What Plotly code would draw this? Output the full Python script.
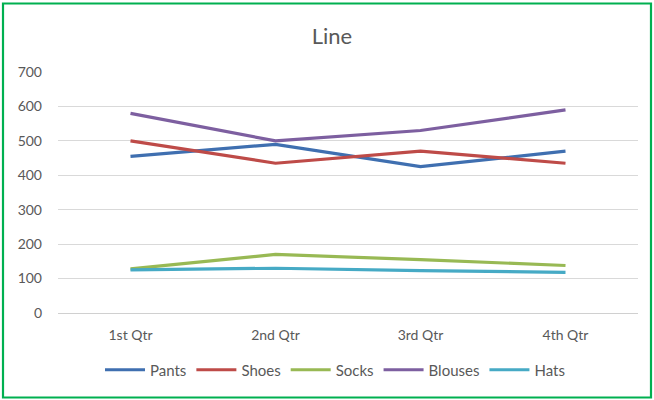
import plotly.graph_objects as go

quarters = ["1st Qtr", "2nd Qtr", "3rd Qtr", "4th Qtr"]
pants = [455, 490, 425, 470]
shoes = [500, 435, 470, 435]
socks = [128, 170, 155, 138]
blouses = [580, 500, 530, 590]
hats = [125, 130, 123, 118]

series_names = ["Pants", "Shoes", "Socks", "Blouses", "Hats"]
series_values = [pants, shoes, socks, blouses, hats]
series_colors = ["#3F6FB0", "#BE4B48", "#98B954", "#7D5FA0", "#46AAC5"]

W, H = 654, 400
ml, mr, mt, mb = 58, 16, 72, 87

fig = go.Figure()
for name, vals, col in zip(series_names, series_values, series_colors):
    fig.add_trace(go.Scatter(
        x=quarters, y=vals, name=name, mode="lines",
        line=dict(color=col, width=3.2),
    ))

pw = W - ml - mr
ph = H - mt - mb


def px_x(p):
    return (p - ml) / pw


def px_y(p):
    return (H - mb - p) / ph


fig.update_layout(
    width=W, height=H,
    margin=dict(l=ml, r=mr, t=mt, b=mb),
    paper_bgcolor="white",
    plot_bgcolor="white",
    font=dict(family="Lato, 'Open Sans', sans-serif", color="#595959", size=14),
    title=dict(text="Line", x=332 / W, xanchor="center", y=1 - 36 / H, yanchor="middle",
               font=dict(size=22, color="#595959")),
    xaxis=dict(
        showgrid=False, showline=True, linecolor="#D0D0D0", linewidth=1,
        ticks="", tickfont=dict(size=14, color="#595959"), ticklabelstandoff=9,
        range=[-0.5, 3.5],
    ),
    yaxis=dict(
        range=[0, 700], dtick=100, showgrid=True, gridcolor="#D9D9D9", gridwidth=1,
        zeroline=False, showline=False, ticks="",
        tickfont=dict(size=14, color="#595959"), ticklabelstandoff=15,
    ),
    legend=dict(
        orientation="h", x=px_x(335), xanchor="center", y=px_y(370), yanchor="middle",
        font=dict(size=15, color="#595959"), tracegroupgap=0, itemwidth=40,
    ),
    showlegend=True,
    shapes=[dict(
        type="rect", xref="paper", yref="paper",
        x0=px_x(3), x1=px_x(651), y0=px_y(397.5), y1=px_y(3.5),
        line=dict(color="#00B050", width=2.2), fillcolor="rgba(0,0,0,0)", layer="above",
    )],
)

fig.write_html("out.html")
